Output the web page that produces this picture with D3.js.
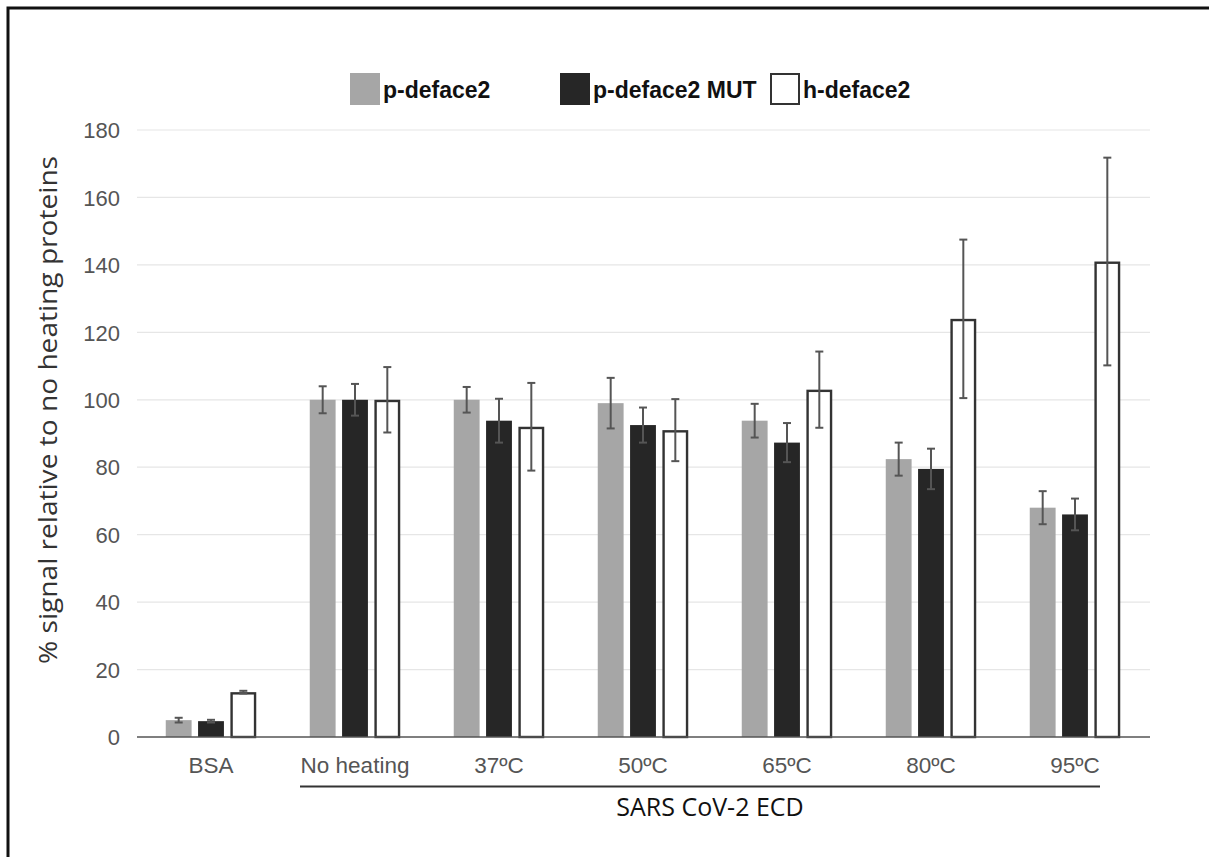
<!DOCTYPE html>
<html><head><meta charset="utf-8">
<script src="https://cdn.jsdelivr.net/npm/d3@7/dist/d3.min.js"></script>
<style>body{margin:0;background:#fff}svg{display:block}</style>
</head><body>
<svg id="c" width="1209" height="857"></svg>
<script>
const categories = ["BSA","No heating","37ºC","50ºC","65ºC","80ºC","95ºC"];
const seriesNames = ["p-deface2","p-deface2 MUT","h-deface2"];
const pValues   = [5.0, 100, 100, 99, 93.8, 82.4, 68];
const pErr      = [0.7, 4.0, 3.8, 7.5, 5.0, 4.9, 4.9];
const mutValues = [4.7, 100, 93.8, 92.5, 87.3, 79.5, 66];
const mutErr    = [0.4, 4.7, 6.5, 5.2, 5.8, 6.0, 4.7];
const hValues   = [13.3, 100, 92, 91, 103, 124, 141];
const hErr      = [0.4, 9.7, 13, 9.2, 11.3, 23.5, 30.8];
const yTicks = [0,20,40,60,80,100,120,140,160,180];

const fills = ["#a6a6a6","#262626","#ffffff"];
const strokes = ["none","none","#333"];
const vals = [pValues, mutValues, hValues];
const errs = [pErr, mutErr, hErr];

const svg = d3.select("#c");
// frame (top & left)
svg.append("path").attr("d","M8,857 V8 H1209").attr("fill","none").attr("stroke","#111").attr("stroke-width",3);

const y = d3.scaleLinear().domain([0,180]).range([737,130]);
const x0 = d3.scaleBand().domain(categories).range([139,1147]).padding(0);
const x1 = d3.scaleBand().domain(seriesNames).range([26.75, x0.bandwidth()-26.75]).paddingInner(0.2);

// gridlines
svg.append("g").selectAll("line").data(yTicks.filter(d=>d>0)).join("line")
  .attr("x1",137).attr("x2",1150).attr("y1",d=>y(d)).attr("y2",d=>y(d))
  .attr("stroke","#e6e6e6").attr("stroke-width",1.2);

// y axis labels
const yAxis = d3.axisLeft(y).tickValues(yTicks).tickSize(0).tickPadding(0);
const ya = svg.append("g").attr("transform","translate(120,0)").call(yAxis);
ya.select(".domain").remove();
ya.selectAll("text").attr("font-family","Liberation Sans, Arial, sans-serif").attr("font-size",22).attr("fill","#555").attr("dy","0.35em");

// bars
const data = [];
categories.forEach((c,i)=>seriesNames.forEach((s,j)=>data.push({c,s,j,v:vals[j][i],e:errs[j][i]})));
const g = svg.append("g");
g.selectAll("rect").data(data).join("rect")
  .attr("x",d=>x0(d.c)+x1(d.s)+(d.j===2?1.2:0))
  .attr("width",d=>x1.bandwidth()-(d.j===2?2.4:0))
  .attr("y",d=>y(d.v)+(d.j===2?1.2:0))
  .attr("height",d=>y(0)-y(d.v)-(d.j===2?1.2:0))
  .attr("fill",d=>fills[d.j]).attr("stroke",d=>strokes[d.j]).attr("stroke-width",2.4);

// x baseline
svg.append("line").attr("x1",137).attr("x2",1150).attr("y1",y(0)).attr("y2",y(0)).attr("stroke","#555").attr("stroke-width",1.5);

// error bars
const eb = svg.append("g").attr("stroke","#555").attr("stroke-width",2);
data.forEach(d=>{
  const cx = x0(d.c)+x1(d.s)+x1.bandwidth()/2;
  eb.append("line").attr("x1",cx).attr("x2",cx).attr("y1",y(d.v+d.e)).attr("y2",y(d.v-d.e));
  eb.append("line").attr("x1",cx-4).attr("x2",cx+4).attr("y1",y(d.v+d.e)).attr("y2",y(d.v+d.e));
  eb.append("line").attr("x1",cx-4).attr("x2",cx+4).attr("y1",y(d.v-d.e)).attr("y2",y(d.v-d.e));
});

// x axis labels
const xAxis = d3.axisBottom(x0).tickSize(0).tickPadding(0);
const xa = svg.append("g").attr("transform","translate(0,773)").call(xAxis);
xa.select(".domain").remove();
xa.selectAll("text").attr("font-family","Liberation Sans, Arial, sans-serif").attr("font-size",22.5).attr("fill","#555").attr("dy",0);

// group underline and label
svg.append("line").attr("x1",300).attr("x2",1100).attr("y1",786.5).attr("y2",786.5).attr("stroke","#333").attr("stroke-width",2);
svg.append("text").attr("x",710).attr("y",816).attr("text-anchor","middle")
  .attr("font-family","Open Sans, sans-serif").attr("font-size",25).attr("fill","#111").text("SARS CoV-2 ECD");

// y title
svg.append("text").attr("transform","translate(57,410) rotate(-90)").attr("text-anchor","middle")
  .attr("font-family","Open Sans, sans-serif").attr("font-size",25).attr("fill","#333")
  .attr("textLength",508).attr("lengthAdjust","spacingAndGlyphs")
  .text("% signal relative to no heating proteins");

// legend
const legX = [350,560,770];
const leg = svg.append("g");
seriesNames.forEach((s,j)=>{
  leg.append("rect").attr("x",legX[j]+(j===2?1:0)).attr("y",73+(j===2?1:0)).attr("width",j===2?28:30).attr("height",j===2?30:32)
    .attr("fill",fills[j]).attr("stroke",j===2?"#333":"none").attr("stroke-width",2);
  leg.append("text").attr("x",legX[j]+33).attr("y",98).attr("font-family","Liberation Sans, Arial, sans-serif")
    .attr("font-weight","bold").attr("font-size",23).attr("fill","#111").text(s);
});
</script>
</body></html>
